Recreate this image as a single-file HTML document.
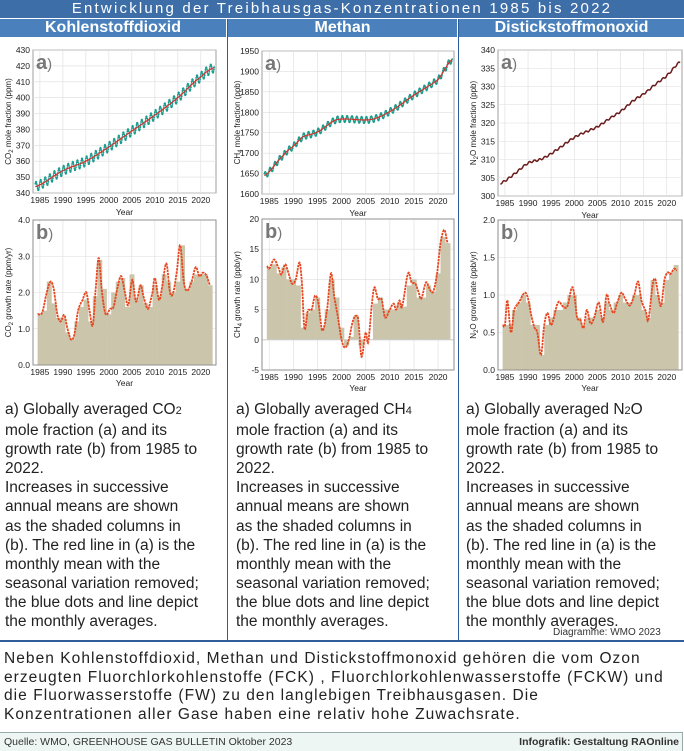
<!DOCTYPE html>
<html><head><meta charset="utf-8"><style>
body{margin:0;width:684px;height:751px;background:#fff;position:relative;overflow:hidden;font-family:"Liberation Sans",sans-serif}
.title{position:absolute;left:0;top:0;width:684px;height:18px;background:#3e6ea8;color:#fff;font-size:15px;letter-spacing:2.2px;text-align:center;line-height:18px}
.hdr{position:absolute;top:19px;height:18px;background:#4a80bb;color:#fff;font-weight:bold;font-size:16px;text-align:center;line-height:18px}
.vl{position:absolute;top:19px;width:1px;height:622px;background:#2f5d9a}
.txt{position:absolute;top:400px;font-size:15.5px;line-height:19.1px;color:#222;white-space:nowrap}
.txt sub{font-size:11px;vertical-align:0;}
svg{position:absolute;left:0;top:0}
.p{position:absolute;left:4px;top:650px;font-size:15.5px;line-height:18.7px;letter-spacing:1.05px;color:#222;white-space:nowrap}
.foot{position:absolute;left:0;top:732px;width:682px;height:18px;background:#eef6f3;border-top:1px solid #9aa;border-right:1px solid #9aa;font-size:10.5px;color:#333;line-height:18px}
</style></head><body>
<div class="title">Entwicklung der Treibhausgas-Konzentrationen 1985 bis 2022</div>
<div class="hdr" style="left:0;width:226px">Kohlenstoffdioxid</div>
<div class="hdr" style="left:228px;width:229px">Methan</div>
<div class="hdr" style="left:459px;width:225px">Distickstoffmonoxid</div>
<div class="vl" style="left:227px"></div><div class="vl" style="left:458px"></div>
<svg id="s" width="684" height="751" font-family="Liberation Sans, sans-serif"></svg>
<div class="txt" style="left:5px">a) Globally averaged CO<sub>2</sub><br>mole fraction (a) and its<br>growth rate (b) from 1985 to<br>2022.<br>Increases in successive<br>annual means are shown<br>as the shaded columns in<br>(b). The red line in (a) is the<br>monthly mean with the<br>seasonal variation removed;<br>the blue dots and line depict<br>the monthly averages.</div>
<div class="txt" style="left:236px">a) Globally averaged CH<sub>4</sub><br>mole fraction (a) and its<br>growth rate (b) from 1985 to<br>2022.<br>Increases in successive<br>annual means are shown<br>as the shaded columns in<br>(b). The red line in (a) is the<br>monthly mean with the<br>seasonal variation removed;<br>the blue dots and line depict<br>the monthly averages.</div>
<div class="txt" style="left:466px">a) Globally averaged N<sub>2</sub>O<br>mole fraction (a) and its<br>growth rate (b) from 1985 to<br>2022.<br>Increases in successive<br>annual means are shown<br>as the shaded columns in<br>(b). The red line in (a) is the<br>monthly mean with the<br>seasonal variation removed;<br>the blue dots and line depict<br>the monthly averages.</div>
<div style="position:absolute;left:553px;top:627px;font-size:10px;color:#333">Diagramme: WMO 2023</div>
<div style="position:absolute;left:0;top:640px;width:684px;height:2px;background:#2f5d9a"></div>
<div class="p">Neben Kohlenstoffdioxid, Methan und Distickstoffmonoxid gehören die vom Ozon<br>erzeugten Fluorchlorkohlenstoffe (FCK) , Fluorchlorkohlenwasserstoffe (FCKW) und<br>die Fluorwasserstoffe (FW) zu den langlebigen Treibhausgasen. Die<br>Konzentrationen aller Gase haben eine relativ hohe Zuwachsrate.</div>
<div class="foot"><span style="position:absolute;left:4px">Quelle: WMO, GREENHOUSE GAS BULLETIN  Oktober 2023</span><span style="position:absolute;right:3px;font-weight:bold">Infografik: Gestaltung RAOnline</span></div>
<script>
const S=document.getElementById('s');let h='';
function cr(pts,x){let i=1;while(i<pts.length-1&&x>pts[i][0])i++;const p1=pts[i-1],p2=pts[i],p0=pts[i-2]||p1,p3=pts[i+1]||p2;const t=Math.max(0,Math.min(1,(x-p1[0])/(p2[0]-p1[0])));const t2=t*t,t3=t2*t;return 0.5*((2*p1[1])+(-p0[1]+p2[1])*t+(2*p0[1]-5*p1[1]+4*p2[1]-p3[1])*t2+(-p0[1]+3*p1[1]-3*p2[1]+p3[1])*t3);}
function axes(L,R,T,B,y0,y1,ystep,fmt,ylab,lab,xlabY){
 const X=y=>L+(y-1983.5)/(2023.3-1983.5)*(R-L),Y=v=>B-(v-y0)/(y1-y0)*(B-T);
 h+=`<rect x="${L}" y="${T}" width="${R-L}" height="${B-T}" fill="#fff" stroke="#888" stroke-width="0.8"/>`;
 for(let yr=1985;yr<=2020;yr+=5){h+=`<line x1="${X(yr)}" x2="${X(yr)}" y1="${T}" y2="${B}" stroke="#ddd" stroke-width="0.6"/><text x="${X(yr)}" y="${B+10}" font-size="8.5" text-anchor="middle" fill="#222">${yr}</text>`;}
 for(let v=y0;v<=y1+1e-9;v+=ystep){h+=`<line x1="${L}" x2="${R}" y1="${Y(v)}" y2="${Y(v)}" stroke="#ddd" stroke-width="0.6"/><text x="${L-3}" y="${Y(v)+3}" font-size="8.5" text-anchor="end" fill="#222">${fmt(v)}</text>`;}
 h+=`<text x="${(L+R)/2}" y="${xlabY}" font-size="8.5" text-anchor="middle" fill="#222">Year</text>`;
 h+=`<text transform="translate(${L-22},${(T+B)/2}) rotate(-90)" font-size="8" text-anchor="middle" fill="#222">${ylab}</text>`;
 h+=`<text x="${L+3}" y="${T+19}" font-size="20" font-weight="bold" fill="#777">${lab}<tspan font-size="15" font-weight="normal">)</tspan></text>`;
 return [X,Y];}
function panelA(L,R,T,B,y0,y1,st,ylab,tr,amp,teal){
 const [X,Y]=axes(L,R,T,B,y0,y1,st,v=>v,ylab,'a',B+22);
 let p='',q='',d='';
 for(let t=1984;t<=2022.95;t+=1/12){let v=cr(tr,t);if(!teal)v+=0.25*Math.sin(2*Math.PI*t*0.9);const s=v+amp*Math.sin(2*Math.PI*(t+0.1));p+=(p?'L':'M')+X(t).toFixed(1)+','+Y(v).toFixed(1);if(teal){q+=(q?'L':'M')+X(t).toFixed(1)+','+Y(s).toFixed(1);d+=`<circle cx="${X(t).toFixed(1)}" cy="${Y(s).toFixed(1)}" r="0.9" fill="#1a9c8c"/>`;}}
 if(teal)h+=`<path d="${q}" fill="none" stroke="#2a8f9a" stroke-width="0.8"/>`+d;
 h+=`<path d="${p}" fill="none" stroke="${teal?'#d3312a':'#6b1a1a'}" stroke-width="${teal?1.2:1.5}"/>`;}
function panelB(L,R,T,B,y0,y1,st,fmt,ylab,curve,bars){
 const [X,Y]=axes(L,R,T,B,y0,y1,st,fmt,ylab,'b',B+21);
 const z=Y(Math.max(0,y0));
 bars.forEach((v,i)=>{const yr=1985+i;const x0=X(yr-0.5),x1=X(yr+0.5);const a=Y(Math.max(v,0)),b=Y(Math.min(v,0));h+=`<rect x="${x0}" y="${Math.min(a,z)}" width="${x1-x0+0.3}" height="${Math.abs(b-a)}" fill="#cbc5ab"/>`;});
 if(y0<0)h+=`<line x1="${L}" x2="${R}" y1="${z}" y2="${z}" stroke="#ccc"/>`;
 let p='';for(let t=curve[0][0];t<=curve[curve.length-1][0];t+=0.05){p+=(p?'L':'M')+X(t).toFixed(1)+','+Y(cr(curve,t)).toFixed(1);}
 h+=`<path d="${p}" fill="none" stroke="#e8461e" stroke-width="1.8" stroke-dasharray="2.5 0.8"/>`;
 h+=`<rect x="${L}" y="${T}" width="${R-L}" height="${B-T}" fill="none" stroke="#888" stroke-width="0.8"/>`;}
panelA(33,216,50,193,340,430,10,'CO<tspan font-size="6" dy="2">2</tspan><tspan dy="-2"> mole fraction (ppm)</tspan>',[[1984,344],[1990,354],[1995,360],[2000,369],[2005,379],[2010,389],[2015,400],[2020,413],[2023,419]],3,true);
panelA(262,454,51,194,1600,1950,50,'CH<tspan font-size="6" dy="2">4</tspan><tspan dy="-2"> mole fraction (ppb)</tspan>',[[1984,1645],[1988,1695],[1990,1717],[1992,1740],[1995,1752],[1999,1782],[2006,1782],[2010,1802],[2015,1842],[2020,1880],[2023,1930]],8,true);
panelA(498,682,50,196,300,340,5,'N<tspan font-size="6" dy="2">2</tspan><tspan dy="-2">O mole fraction (ppb)</tspan>',[[1984,303.5],[1987,306],[1990,309],[1993,310.2],[1996,312.5],[2000,316],[2003,317.8],[2005,319],[2008,321.5],[2010,323.2],[2013,326.3],[2015,328],[2018,331],[2020,333],[2023,336.8]],0,false);
panelB(33,216,220,365,0,4,1,v=>v.toFixed(1),'CO<tspan font-size="6" dy="2">2</tspan><tspan dy="-2"> growth rate (ppm/yr)</tspan>',
[[1984.5,1.4],[1985.5,1.45],[1986.5,2.0],[1987.3,2.3],[1988,2.1],[1988.8,1.4],[1989.5,1.2],[1990.3,1.38],[1991,1.0],[1991.8,0.7],[1992.5,0.85],[1993.3,1.5],[1994.3,1.8],[1995.1,2.0],[1995.8,1.5],[1996.5,1.1],[1997.2,2.2],[1997.8,2.95],[1998.5,2.0],[1999.3,1.4],[2000.3,1.55],[2001,1.6],[2002,2.2],[2002.7,2.45],[2003.5,2.0],[2004.2,1.65],[2005.1,2.35],[2005.9,1.75],[2006.9,2.2],[2007.5,1.9],[2008.5,1.55],[2009.5,2.0],[2010,2.4],[2010.9,1.8],[2011.5,2.1],[2012.5,2.8],[2013.3,2.0],[2014,2.0],[2014.8,2.6],[2015.5,3.3],[2016.3,2.3],[2017,2.05],[2018,2.3],[2018.9,2.7],[2019.7,2.45],[2020.5,2.55],[2021.3,2.45],[2022,2.2]],
[1.4,1.5,2.3,1.7,1.3,1.3,0.9,0.7,1.2,1.6,1.8,1.2,1.9,2.9,2.1,1.4,2.0,2.3,2.4,1.6,2.5,1.8,2.2,1.7,1.6,2.2,1.9,2.5,2.3,2.0,2.3,3.3,2.1,2.3,2.5,2.5,2.5,2.2]);
panelB(262,454,219,370,-5,20,5,v=>v,'CH<tspan font-size="6" dy="2">4</tspan><tspan dy="-2"> growth rate (ppb/yr)</tspan>',
[[1984.5,12.2],[1985,11.8],[1986,13.3],[1987,11.8],[1987.5,10.8],[1988.3,12.5],[1989,11],[1989.7,9.3],[1990.5,10],[1991.3,12.8],[1991.8,9],[1992.3,1.8],[1993,4.8],[1993.8,5],[1994.5,7.3],[1995.2,6],[1996,1.5],[1997,5],[1997.8,11],[1998.5,7],[1999.3,3.5],[2000,0],[2000.7,-1.3],[2001.5,0],[2002.3,3],[2003,4],[2003.5,3],[2004.1,-2.8],[2005,1.2],[2005.5,-0.4],[2006.3,6],[2006.8,8.7],[2007.5,6.8],[2008.3,6.7],[2009,3.7],[2010,5],[2010.8,6],[2011.3,5],[2012,6.5],[2012.5,5.5],[2013.8,11],[2014.5,9.5],[2015.3,9.3],[2016,7.8],[2016.5,6.8],[2017.5,9.5],[2018.3,8.3],[2019,8],[2019.8,11],[2020.5,16],[2021.3,18.2],[2022,16]],
[12,12.5,11,12,10,10,9,2,4.5,5,7,2,5,10,7,2,-1,0.5,4,-1,0,0,6,7,5,5,5,6,5.5,9,10,7,7,9,8,11,17,16]);
panelB(498,682,220,370,0,2,0.5,v=>v.toFixed(1),'N<tspan font-size="6" dy="2">2</tspan><tspan dy="-2">O growth rate (ppb/yr)</tspan>',
[[1984.5,0.6],[1985,0.6],[1985.5,0.93],[1986.3,0.5],[1987,0.8],[1988,0.9],[1989.3,1.03],[1990,0.95],[1990.8,0.7],[1991.5,0.55],[1992,0.5],[1992.8,0.2],[1993.5,0.6],[1994.2,0.76],[1995,0.6],[1996.5,0.9],[1997.5,0.85],[1998.5,0.85],[1999.5,1.1],[2000,1.0],[2000.6,0.7],[2001.3,0.67],[2002,0.56],[2002.7,0.8],[2003.5,0.62],[2004.3,0.7],[2005.3,0.9],[2006.2,0.64],[2007,1.0],[2007.5,0.9],[2008.5,0.76],[2009.3,0.9],[2010.2,1.03],[2011,0.95],[2012,0.86],[2013,1.0],[2013.8,1.18],[2014.5,0.93],[2015.5,0.78],[2016,0.67],[2017,1.15],[2017.6,1.2],[2018.2,0.98],[2018.8,0.86],[2019.5,1.2],[2020.2,1.3],[2020.8,1.28],[2021.6,1.35],[2022.2,1.33]],
[0.6,0.6,0.8,0.9,1.0,0.9,0.6,0.6,0.2,0.6,0.7,0.8,0.8,0.9,1.0,1.0,0.7,0.6,0.7,0.7,0.8,0.7,0.9,0.8,0.9,1.0,0.9,0.9,1.0,1.0,0.8,0.7,1.2,1.0,0.9,1.2,1.3,1.4]);
S.innerHTML=h;
</script>
</body></html>
